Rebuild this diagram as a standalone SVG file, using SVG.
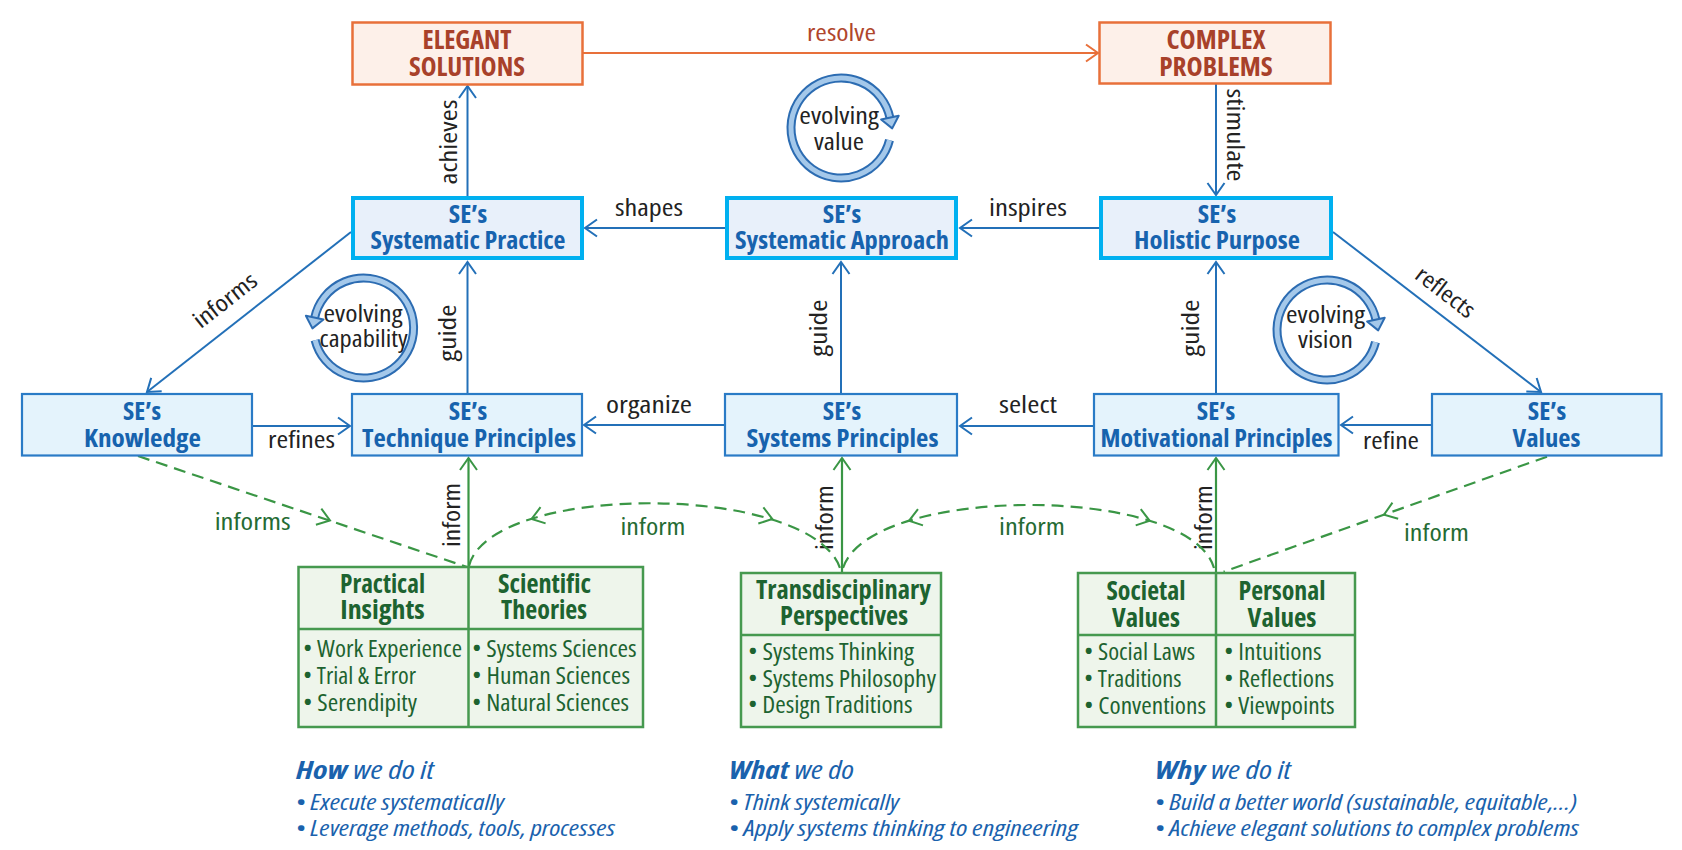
<svg xmlns="http://www.w3.org/2000/svg" width="1682" height="850" viewBox="0 0 1682 850">
<style>
text { font-family: "Open Sans", "Liberation Sans", sans-serif; font-stretch: condensed; }
.top { font-weight: 700; font-size: 27px; fill: #a8412a; text-anchor: middle; }
.node { font-weight: 700; font-size: 25px; fill: #1763ae; text-anchor: middle; }
.lbl { font-size: 23px; fill: #222222; text-anchor: middle; }
.olbl { font-size: 23px; fill: #b0462c; text-anchor: middle; }
.glbl { font-size: 23px; fill: #256b33; text-anchor: middle; }
.cyc { font-size: 23px; fill: #222222; text-anchor: middle; }
.ghead { font-weight: 700; font-size: 26px; fill: #1d6330; text-anchor: middle; }
.gitem { font-size: 23px; fill: #1d6330; }
.foot { font-size: 22px; fill: #1a62ad; font-style: italic; }
.fhead { font-size: 25px; }
.obox { fill: #fdf0e9; stroke: #e8703a; stroke-width: 2.5; }
.tbox { fill: #e8f0fa; stroke: #00b0f0; stroke-width: 4; }
.bbox { fill: #e4f3fc; stroke: #2a7bc6; stroke-width: 2.2; }
.gbox { fill: #eef5eb; stroke: #46994f; stroke-width: 2.5; }
.gdiv { stroke: #46994f; stroke-width: 2.5; fill: none; }
.ba { stroke: #2370b8; stroke-width: 2; fill: none; marker-end: url(#mb); }
.oa { stroke: #e8703a; stroke-width: 2; fill: none; marker-end: url(#mo); }
.ga { stroke: #3a9645; stroke-width: 2.2; fill: none; marker-end: url(#mg); }
.gd { stroke: #3a9645; stroke-width: 2.2; fill: none; stroke-dasharray: 12 7; }
.chev { stroke: #3a9645; stroke-width: 2; fill: none; }
</style>
<defs>
  <marker id="mb" viewBox="0 0 16 20" refX="14" refY="10" markerWidth="16" markerHeight="20" markerUnits="userSpaceOnUse" orient="auto">
    <path d="M2,1.5 L14,10 L2,18.5" fill="none" stroke="#2370b8" stroke-width="2"/>
  </marker>
  <marker id="mo" viewBox="0 0 16 20" refX="14" refY="10" markerWidth="16" markerHeight="20" markerUnits="userSpaceOnUse" orient="auto">
    <path d="M2,1.5 L14,10 L2,18.5" fill="none" stroke="#e8703a" stroke-width="2"/>
  </marker>
  <marker id="mg" viewBox="0 0 16 20" refX="14" refY="10" markerWidth="16" markerHeight="20" markerUnits="userSpaceOnUse" orient="auto">
    <path d="M2,1.5 L14,10 L2,18.5" fill="none" stroke="#3a9645" stroke-width="2"/>
  </marker>
  <g id="cycle">
    <path d="M 48.51 12.10 A 50 50 0 1 1 48.9 -10.4" fill="none" stroke="#2c6cb2" stroke-width="9"/>
    <path d="M 48.51 12.10 A 50 50 0 1 1 48.9 -10.4" fill="none" stroke="#a4c8ea" stroke-width="5"/>
    <path d="M 40.1 -8.52 L 57.7 -12.27 L 51.2 0.36 Z" fill="#a4c8ea" stroke="#2c6cb2" stroke-width="2" stroke-linejoin="round"/>
  </g>
  <path id="chv" d="M -12 -8.5 L 0 0 L -12 8.5"/>
</defs>
<rect x="0" y="0" width="1682" height="850" fill="#ffffff"/>

<g id="connectors">
  <path class="oa" d="M 583 53 L 1098 53"/>
  <text class="olbl" x="841.5" y="40.5" textLength="69" lengthAdjust="spacingAndGlyphs">resolve</text>

  <path class="ba" d="M 467.5 196 L 467.5 86"/>
  <text class="lbl" transform="translate(457,142) rotate(-90)" x="0" y="0" textLength="85" lengthAdjust="spacingAndGlyphs">achieves</text>

  <path class="ba" d="M 1216 84 L 1216 195"/>
  <text class="lbl" transform="translate(1226.5,135) rotate(90)" x="0" y="0" textLength="93" lengthAdjust="spacingAndGlyphs">stimulate</text>

  <path class="ba" d="M 725 228 L 585 228"/>
  <text class="lbl" x="649" y="216" textLength="68" lengthAdjust="spacingAndGlyphs">shapes</text>

  <path class="ba" d="M 1099 228 L 960 228"/>
  <text class="lbl" x="1028" y="216" textLength="78" lengthAdjust="spacingAndGlyphs">inspires</text>

  <path class="ba" d="M 351 232 L 147 392"/>
  <text class="lbl" transform="translate(230,306.5) rotate(-38)" x="0" y="0" textLength="74" lengthAdjust="spacingAndGlyphs">informs</text>

  <path class="ba" d="M 1333 232 L 1541 392"/>
  <text class="lbl" transform="translate(1440.5,298.5) rotate(37.6)" x="0" y="0" textLength="68" lengthAdjust="spacingAndGlyphs">reflects</text>

  <path class="ba" d="M 253 426 L 350 426"/>
  <text class="lbl" x="301.5" y="448" textLength="67" lengthAdjust="spacingAndGlyphs">refines</text>

  <path class="ba" d="M 467.5 393 L 467.5 262"/>
  <text class="lbl" transform="translate(455.5,333) rotate(-90)" x="0" y="0" textLength="57" lengthAdjust="spacingAndGlyphs">guide</text>

  <path class="ba" d="M 724 425 L 584 425"/>
  <text class="lbl" x="649" y="413" textLength="86" lengthAdjust="spacingAndGlyphs">organize</text>

  <path class="ba" d="M 841 393 L 841 262"/>
  <text class="lbl" transform="translate(827,328) rotate(-90)" x="0" y="0" textLength="57" lengthAdjust="spacingAndGlyphs">guide</text>

  <path class="ba" d="M 1093 426 L 960 426"/>
  <text class="lbl" x="1028" y="413" textLength="58" lengthAdjust="spacingAndGlyphs">select</text>

  <path class="ba" d="M 1216 393 L 1216 262"/>
  <text class="lbl" transform="translate(1199,328) rotate(-90)" x="0" y="0" textLength="57" lengthAdjust="spacingAndGlyphs">guide</text>

  <path class="ba" d="M 1431 425 L 1341 425"/>
  <text class="lbl" x="1391" y="449" textLength="56" lengthAdjust="spacingAndGlyphs">refine</text>

  <path class="ga" d="M 468.5 567 L 468.5 458"/>
  <text class="lbl" transform="translate(459.5,515) rotate(-90)" x="0" y="0" textLength="64" lengthAdjust="spacingAndGlyphs">inform</text>
  <path class="ga" d="M 842 573 L 842 458"/>
  <text class="lbl" transform="translate(833,517.5) rotate(-90)" x="0" y="0" textLength="65" lengthAdjust="spacingAndGlyphs">inform</text>
  <path class="ga" d="M 1216 573 L 1216 458"/>
  <text class="lbl" transform="translate(1211.5,517.5) rotate(-90)" x="0" y="0" textLength="65" lengthAdjust="spacingAndGlyphs">inform</text>

  <path class="gd" d="M 138 456 L 467 567"/>
  <use href="#chv" class="chev" transform="translate(330,520.5) rotate(18.6)"/>
  <text class="glbl" x="252.7" y="530" textLength="76" lengthAdjust="spacingAndGlyphs">informs</text>

  <path class="gd" d="M 469 566 C 490 482, 810 482, 840 568"/>
  <use href="#chv" class="chev" transform="translate(531.6,518.9) rotate(162.6)"/>
  <use href="#chv" class="chev" transform="translate(772.3,519) rotate(17.3)"/>
  <text class="glbl" x="653" y="535" textLength="65" lengthAdjust="spacingAndGlyphs">inform</text>

  <path class="gd" d="M 843 568 C 870 484, 1190 484, 1214 568"/>
  <use href="#chv" class="chev" transform="translate(909,520.8) rotate(162.9)"/>
  <use href="#chv" class="chev" transform="translate(1149.7,520.8) rotate(17.3)"/>
  <text class="glbl" x="1032" y="535" textLength="66" lengthAdjust="spacingAndGlyphs">inform</text>

  <path class="gd" d="M 1547 456.7 L 1223.6 571.7"/>
  <use href="#chv" class="chev" transform="translate(1384,514.7) rotate(160.4)"/>
  <text class="glbl" x="1436.5" y="540.5" textLength="65" lengthAdjust="spacingAndGlyphs">inform</text>
</g>

<g id="cycle-value">
  <use href="#cycle" transform="translate(841,128)"/>
  <text class="cyc"><tspan x="839" y="124" textLength="79.5" lengthAdjust="spacingAndGlyphs">evolving</tspan><tspan x="839" y="150" textLength="50" lengthAdjust="spacingAndGlyphs">value</tspan></text>
</g>
<g id="cycle-capability">
  <use href="#cycle" transform="translate(363.6,328) scale(-1,1)"/>
  <text class="cyc"><tspan x="363" y="321.7" textLength="79" lengthAdjust="spacingAndGlyphs">evolving</tspan><tspan x="363.6" y="346.7" textLength="88" lengthAdjust="spacingAndGlyphs">capability</tspan></text>
</g>
<g id="cycle-vision">
  <use href="#cycle" transform="translate(1327,330)"/>
  <text class="cyc"><tspan x="1325.5" y="322.7" textLength="79" lengthAdjust="spacingAndGlyphs">evolving</tspan><tspan x="1325.5" y="348" textLength="55" lengthAdjust="spacingAndGlyphs">vision</tspan></text>
</g>

<g id="elegant-solutions">
  <rect class="obox" x="352.5" y="22.5" width="230" height="62"/>
  <text class="top"><tspan x="467" y="49" textLength="89" lengthAdjust="spacingAndGlyphs">ELEGANT</tspan><tspan x="467" y="75.5" textLength="116" lengthAdjust="spacingAndGlyphs">SOLUTIONS</tspan></text>
</g>
<g id="complex-problems">
  <rect class="obox" x="1099.5" y="22.5" width="231" height="61"/>
  <text class="top"><tspan x="1216" y="49" textLength="99" lengthAdjust="spacingAndGlyphs">COMPLEX</tspan><tspan x="1216" y="75.5" textLength="113.5" lengthAdjust="spacingAndGlyphs">PROBLEMS</tspan></text>
</g>

<g id="systematic-practice">
  <rect class="tbox" x="353" y="198" width="229" height="60"/>
  <text class="node"><tspan x="468" y="223" textLength="38.5" lengthAdjust="spacingAndGlyphs">SE’s</tspan><tspan x="468" y="249" textLength="195" lengthAdjust="spacingAndGlyphs">Systematic Practice</tspan></text>
</g>
<g id="systematic-approach">
  <rect class="tbox" x="727" y="198" width="229" height="60"/>
  <text class="node"><tspan x="842" y="223" textLength="38.5" lengthAdjust="spacingAndGlyphs">SE’s</tspan><tspan x="842" y="249" textLength="214" lengthAdjust="spacingAndGlyphs">Systematic Approach</tspan></text>
</g>
<g id="holistic-purpose">
  <rect class="tbox" x="1101" y="198" width="230" height="60"/>
  <text class="node"><tspan x="1217" y="223" textLength="38.5" lengthAdjust="spacingAndGlyphs">SE’s</tspan><tspan x="1217" y="249" textLength="166" lengthAdjust="spacingAndGlyphs">Holistic Purpose</tspan></text>
</g>

<g id="knowledge">
  <rect class="bbox" x="22" y="394" width="230" height="61.5"/>
  <text class="node"><tspan x="142" y="420" textLength="38" lengthAdjust="spacingAndGlyphs">SE’s</tspan><tspan x="142.5" y="446.5" textLength="117" lengthAdjust="spacingAndGlyphs">Knowledge</tspan></text>
</g>
<g id="technique-principles">
  <rect class="bbox" x="352" y="394" width="230" height="61.5"/>
  <text class="node"><tspan x="468" y="420" textLength="38.5" lengthAdjust="spacingAndGlyphs">SE’s</tspan><tspan x="469" y="446.5" textLength="214" lengthAdjust="spacingAndGlyphs">Technique Principles</tspan></text>
</g>
<g id="systems-principles">
  <rect class="bbox" x="725" y="394" width="232" height="61.5"/>
  <text class="node"><tspan x="842" y="420" textLength="38.5" lengthAdjust="spacingAndGlyphs">SE’s</tspan><tspan x="842.5" y="446.5" textLength="192" lengthAdjust="spacingAndGlyphs">Systems Principles</tspan></text>
</g>
<g id="motivational-principles">
  <rect class="bbox" x="1094" y="394" width="244.5" height="61.5"/>
  <text class="node"><tspan x="1216" y="420" textLength="38.5" lengthAdjust="spacingAndGlyphs">SE’s</tspan><tspan x="1216.5" y="446.5" textLength="232" lengthAdjust="spacingAndGlyphs">Motivational Principles</tspan></text>
</g>
<g id="values">
  <rect class="bbox" x="1432" y="394" width="229.5" height="61.5"/>
  <text class="node"><tspan x="1547" y="420" textLength="38.5" lengthAdjust="spacingAndGlyphs">SE’s</tspan><tspan x="1546.5" y="446.5" textLength="68" lengthAdjust="spacingAndGlyphs">Values</tspan></text>
</g>

<g id="insights-theories">
  <rect class="gbox" x="298.5" y="567" width="344.5" height="160"/>
  <path class="gdiv" d="M 468.5 567 L 468.5 727 M 298.5 629 L 643 629"/>
  <text class="ghead"><tspan x="382.5" y="592.7" textLength="85" lengthAdjust="spacingAndGlyphs">Practical</tspan><tspan x="382.5" y="619.3" textLength="84.5" lengthAdjust="spacingAndGlyphs">Insights</tspan></text>
  <text class="ghead"><tspan x="544.5" y="592.7" textLength="93" lengthAdjust="spacingAndGlyphs">Scientific</tspan><tspan x="544" y="619.3" textLength="86" lengthAdjust="spacingAndGlyphs">Theories</tspan></text>
  <text class="gitem"><tspan x="303" y="657" textLength="159" lengthAdjust="spacingAndGlyphs">• Work Experience</tspan><tspan x="303" y="684" textLength="113" lengthAdjust="spacingAndGlyphs">• Trial &amp; Error</tspan><tspan x="303" y="710.5" textLength="114" lengthAdjust="spacingAndGlyphs">• Serendipity</tspan></text>
  <text class="gitem"><tspan x="472" y="657" textLength="164.5" lengthAdjust="spacingAndGlyphs">• Systems Sciences</tspan><tspan x="472" y="684" textLength="158" lengthAdjust="spacingAndGlyphs">• Human Sciences</tspan><tspan x="472" y="710.5" textLength="157" lengthAdjust="spacingAndGlyphs">• Natural Sciences</tspan></text>
</g>

<g id="transdisciplinary">
  <rect class="gbox" x="741" y="573" width="200" height="154"/>
  <path class="gdiv" d="M 741 635 L 941 635"/>
  <text class="ghead"><tspan x="843.5" y="599.3" textLength="175" lengthAdjust="spacingAndGlyphs">Transdisciplinary</tspan><tspan x="844" y="625" textLength="128" lengthAdjust="spacingAndGlyphs">Perspectives</tspan></text>
  <text class="gitem"><tspan x="748" y="660" textLength="166" lengthAdjust="spacingAndGlyphs">• Systems Thinking</tspan><tspan x="748" y="686.7" textLength="188" lengthAdjust="spacingAndGlyphs">• Systems Philosophy</tspan><tspan x="748" y="713.3" textLength="164.5" lengthAdjust="spacingAndGlyphs">• Design Traditions</tspan></text>
</g>

<g id="societal-personal">
  <rect class="gbox" x="1078" y="573" width="277" height="154"/>
  <path class="gdiv" d="M 1216 573 L 1216 727 M 1078 635 L 1355 635"/>
  <text class="ghead"><tspan x="1146" y="600" textLength="79" lengthAdjust="spacingAndGlyphs">Societal</tspan><tspan x="1146" y="626.7" textLength="68" lengthAdjust="spacingAndGlyphs">Values</tspan></text>
  <text class="ghead"><tspan x="1282" y="600" textLength="87" lengthAdjust="spacingAndGlyphs">Personal</tspan><tspan x="1282" y="626.7" textLength="69" lengthAdjust="spacingAndGlyphs">Values</tspan></text>
  <text class="gitem"><tspan x="1084" y="660" textLength="111" lengthAdjust="spacingAndGlyphs">• Social Laws</tspan><tspan x="1084" y="687" textLength="97.5" lengthAdjust="spacingAndGlyphs">• Traditions</tspan><tspan x="1084" y="714" textLength="122" lengthAdjust="spacingAndGlyphs">• Conventions</tspan></text>
  <text class="gitem"><tspan x="1224" y="660" textLength="97.6" lengthAdjust="spacingAndGlyphs">• Intuitions</tspan><tspan x="1224" y="687" textLength="110" lengthAdjust="spacingAndGlyphs">• Reflections</tspan><tspan x="1224" y="714" textLength="110.6" lengthAdjust="spacingAndGlyphs">• Viewpoints</tspan></text>
</g>

<g id="how">
  <text class="foot"><tspan class="fhead" x="296" y="779" textLength="138" lengthAdjust="spacingAndGlyphs"><tspan font-weight="700">How</tspan> we do it</tspan><tspan x="296" y="810" textLength="208" lengthAdjust="spacingAndGlyphs">• Execute systematically</tspan><tspan x="296" y="836" textLength="319" lengthAdjust="spacingAndGlyphs">• Leverage methods, tools, processes</tspan></text>
</g>
<g id="what">
  <text class="foot"><tspan class="fhead" x="729" y="779" textLength="125" lengthAdjust="spacingAndGlyphs"><tspan font-weight="700">What</tspan> we do</tspan><tspan x="729" y="810" textLength="170" lengthAdjust="spacingAndGlyphs">• Think systemically</tspan><tspan x="729" y="836" textLength="349" lengthAdjust="spacingAndGlyphs">• Apply systems thinking to engineering</tspan></text>
</g>
<g id="why">
  <text class="foot"><tspan class="fhead" x="1155" y="779" textLength="136" lengthAdjust="spacingAndGlyphs"><tspan font-weight="700">Why</tspan> we do it</tspan><tspan x="1155" y="810" textLength="422" lengthAdjust="spacingAndGlyphs">• Build a better world (sustainable, equitable,…)</tspan><tspan x="1155" y="836" textLength="424" lengthAdjust="spacingAndGlyphs">• Achieve elegant solutions to complex problems</tspan></text>
</g>
</svg>
